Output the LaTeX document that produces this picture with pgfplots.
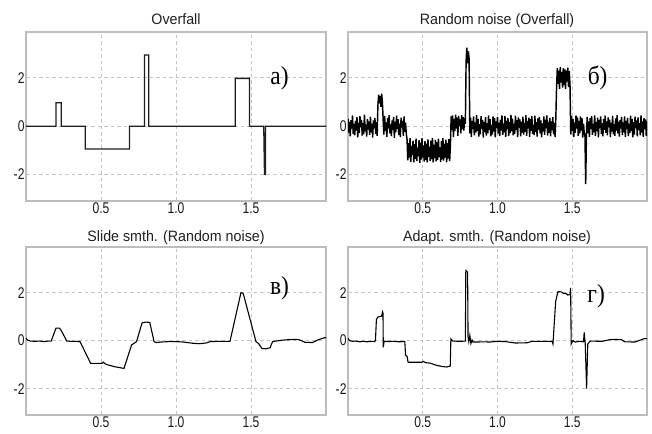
\documentclass[border=0pt]{standalone}
\usepackage{pgfplots}
\pgfplotsset{compat=1.18}
\usepackage{pgfplotstable}
\usepackage{fontspec}
\setmainfont{Liberation Sans}
\newfontfamily\tickfont[FakeStretch=0.78]{Liberation Sans}
\newfontfamily\titlefont[FakeStretch=0.95]{Liberation Sans}
\newfontfamily\lblfont[FakeStretch=0.9]{Liberation Serif}
\definecolor{framegray}{HTML}{BDBDBD}
\definecolor{gridgray}{HTML}{C4C4C4}

\pgfplotstableread[row sep=\\]{
y\\
0.31\\ -0.27\\ 0.18\\ -0.42\\ 0.25\\ -0.1\\ 0.44\\ -0.33\\ 0.09\\ -0.38\\
0.22\\ -0.18\\ 0.37\\ -0.46\\ 0.13\\ -0.29\\ 0.41\\ -0.05\\ 0.26\\ -0.39\\
0.12\\ -0.34\\ 0.48\\ -0.21\\ 0.06\\ -0.43\\ 0.3\\ -0.14\\ 0.2\\ -0.36\\
0.39\\ -0.26\\ 0.1\\ -0.47\\ 0.24\\ -0.08\\ 0.34\\ -0.32\\ 0.17\\ -0.4\\
0.85\\ 1.3\\ 0.95\\ 1.25\\ 0.8\\ 1.35\\ 1.0\\
0.28\\ -0.35\\ 0.42\\ -0.2\\ 0.15\\ -0.44\\ 0.33\\ -0.09\\ 0.46\\ -0.3\\
0.07\\ -0.41\\ 0.24\\ -0.16\\ 0.38\\ -0.48\\ 0.19\\ -0.25\\ 0.43\\ -0.12\\
0.29\\ -0.37\\ 0.1\\ -0.45\\ 0.35\\ -0.06\\ 0.22\\ -0.4\\ 0.4\\ -0.23\\
0.14\\ -0.33\\
-0.55\\ -1.42\\ -0.7\\ -1.3\\ -0.5\\ -1.48\\ -0.82\\ -1.2\\ -0.6\\ -1.5\\
-0.75\\ -1.35\\ -0.52\\ -1.45\\ -0.9\\ -1.25\\ -0.58\\ -1.52\\ -0.68\\ -1.38\\
-0.5\\ -1.3\\ -0.8\\ -1.47\\ -0.62\\ -1.4\\ -0.72\\ -1.5\\ -0.55\\ -1.28\\
-0.85\\ -1.44\\ -0.6\\ -1.36\\ -0.5\\ -1.5\\ -0.77\\ -1.32\\ -0.57\\ -1.46\\
-0.66\\ -1.4\\ -0.52\\ -1.27\\ -0.88\\ -1.49\\ -0.61\\ -1.37\\ -0.5\\ -1.43\\
-0.73\\ -1.3\\ -0.56\\ -1.5\\ -0.69\\ -1.34\\ -0.54\\ -1.45\\ -0.8\\
0.4\\ -0.15\\ 0.45\\ -0.45\\ 0.3\\ -0.2\\ 0.48\\ -0.1\\ 0.35\\ -0.4\\
0.42\\ 0.0\\ 0.28\\ -0.3\\ 0.46\\ -0.12\\ 0.38\\ -0.18\\ 0.33\\ 0.1\\
2.7\\ 3.25\\ 2.6\\ 3.1\\ 2.8\\
-0.3\\ 0.35\\ -0.45\\ 0.22\\ -0.12\\ 0.4\\ -0.38\\ 0.15\\ -0.27\\ 0.46\\
-0.2\\ 0.3\\ -0.43\\ 0.08\\ -0.34\\ 0.41\\ -0.1\\ 0.26\\ -0.47\\ 0.18\\
-0.24\\ 0.37\\ -0.39\\ 0.12\\ -0.3\\ 0.44\\ -0.16\\ 0.29\\ -0.42\\ 0.05\\
-0.35\\ 0.4\\ -0.22\\ 0.33\\ -0.46\\ 0.2\\ -0.08\\ 0.38\\ -0.31\\ 0.14\\
-0.41\\ 0.27\\ -0.18\\ 0.45\\ -0.36\\ 0.09\\ -0.26\\ 0.42\\ -0.44\\ 0.23\\
-0.12\\ 0.34\\ -0.4\\ 0.17\\ -0.29\\ 0.47\\ -0.2\\ 0.31\\ -0.38\\ 0.1\\
-0.33\\ 0.43\\ -0.15\\ 0.25\\ -0.45\\ 0.36\\ -0.07\\ 0.28\\ -0.42\\ 0.19\\
-0.27\\ 0.39\\ -0.35\\ 0.13\\ -0.23\\ 0.46\\ -0.4\\ 0.21\\ -0.1\\ 0.35\\
-0.44\\ 0.3\\ -0.19\\ 0.41\\ -0.32\\ 0.06\\ -0.37\\ 0.44\\ -0.25\\ 0.16\\
-0.43\\ 0.32\\ -0.14\\ 0.38\\ -0.3\\ 0.24\\ -0.46\\ 0.11\\ -0.21\\ 0.4\\
-0.36\\ 0.27\\ -0.09\\ 0.45\\ -0.39\\ 0.18\\ -0.28\\ 0.34\\ -0.42\\ 0.2\\
-0.16\\ 0.37\\ -0.33\\ 0.12\\ -0.45\\ 0.3\\
1.6\\ 2.4\\ 1.75\\ 2.3\\ 1.55\\ 2.45\\ 1.8\\ 2.25\\ 1.6\\ 2.4\\
1.7\\ 2.35\\ 1.55\\ 2.3\\ 1.85\\ 2.42\\ 1.62\\ 2.28\\ 1.7\\
-0.35\\ 0.42\\ -0.2\\ 0.3\\ -0.45\\ 0.15\\ -0.28\\ 0.44\\ -0.1\\ 0.36\\
-0.4\\ 0.22\\ -0.3\\ 0.4\\ -0.18\\ 0.33\\ -0.47\\ 0.1\\ -0.25\\ -0.4\\
-2.4\\ -0.3\\
0.38\\ -0.3\\ 0.2\\ -0.44\\ 0.33\\ -0.12\\ 0.41\\ -0.36\\ 0.1\\ -0.25\\
0.45\\ -0.4\\ 0.16\\ -0.2\\ 0.35\\ -0.46\\ 0.26\\ -0.08\\ 0.4\\ -0.33\\
0.12\\ -0.42\\ 0.3\\ -0.15\\ 0.44\\ -0.28\\ 0.2\\ -0.38\\ 0.36\\ -0.05\\
0.27\\ -0.45\\ 0.14\\ -0.22\\ 0.42\\ -0.34\\ 0.08\\ -0.4\\ 0.32\\ -0.18\\
0.46\\ -0.3\\ 0.19\\ -0.43\\ 0.25\\ -0.1\\ 0.38\\ -0.37\\ 0.15\\ -0.26\\
0.4\\ -0.44\\ 0.22\\ -0.13\\ 0.34\\ -0.41\\ 0.1\\ -0.29\\ 0.43\\ -0.2\\
0.3\\ -0.46\\ 0.17\\ -0.35\\ 0.39\\ -0.07\\ 0.24\\ -0.42\\ 0.36\\ -0.16\\
0.12\\ -0.38\\ 0.45\\ -0.27\\ 0.2\\ -0.44\\ 0.33\\ -0.11\\ 0.28\\ -0.4\\
0.2\\
}\noiseb

\pgfplotsset{
  panel/.style={
    width=300bp, height=169bp, scale only axis,
    anchor=south west,
    xmin=0, xmax=2, ymin=-3.1, ymax=3.9,
    xtick={0.5,1,1.5}, xticklabels={0.5,1.0,1.5},
    ytick={-2,0,2},
    grid=major,
    major grid style={dash pattern=on 3.5bp off 3bp, color=gridgray, line width=0.8bp},
    axis line style={color=framegray, line width=1.1bp},
    major tick length=0pt,
    /pgf/number format/assume math mode=true,
    tick label style={font=\tickfont\fontsize{15.5bp}{17bp}\selectfont, text=black!90},
    xticklabel style={yshift=1.5bp},
    yticklabel style={xshift=2bp},
  },
}
\tikzset{lbl/.style={font=\lblfont\fontsize{26bp}{28bp}\selectfont, text=black},
  ttl/.style={font=\titlefont\fontsize{15bp}{17bp}\selectfont, anchor=base, text=black!88}}

\begin{document}
\begin{tikzpicture}
\path (0,0) rectangle (652bp,434bp);

% a) Overfall
\begin{axis}[panel, at={(26bp,233bp)}]
\addplot[black!88, line width=1.3bp] coordinates {
(0,0)(0.2,0)(0.2,0.97)(0.235,0.97)(0.235,0)(0.395,0)(0.395,-0.95)(0.69,-0.95)(0.69,0)
(0.79,0)(0.79,2.95)(0.818,2.95)(0.818,0)(1.395,0)(1.395,1.98)(1.49,1.98)(1.49,0)
(1.585,0)(1.59,-2)(1.597,-2)(1.597,0)(2,0)};
\node[lbl] at (axis cs:1.69,2.0) {а)};
\end{axis}

% b) Random noise
\begin{axis}[panel, width=299bp, at={(348bp,233bp)}]
\addplot[black, line width=1.45bp] table[x expr=\coordindex*0.005, y=y] {\noiseb};
\node[lbl] at (axis cs:1.67,2.0) {б)};
\end{axis}

% c) Slide smoothing
\begin{axis}[panel, height=168bp, at={(26bp,19bp)}]
\addplot[black, line width=1.1bp] coordinates {
(0,0.1)(0.01,0.02)(0.03,-0.02)(0.06,-0.03)(0.09,-0.02)(0.12,-0.04)(0.15,-0.02)(0.168,-0.02)
(0.2,0.52)(0.223,0.52)(0.235,0.42)(0.272,-0.02)(0.3,-0.03)(0.33,-0.03)(0.36,-0.04)
(0.431,-0.95)(0.47,-0.95)(0.505,-0.95)(0.515,-0.9)(0.53,-0.98)(0.55,-1.02)(0.593,-1.09)
(0.62,-1.12)(0.653,-1.16)(0.704,-0.18)(0.737,-0.04)(0.774,0.74)(0.8,0.77)(0.825,0.76)
(0.854,-0.05)(0.87,-0.08)(0.9,-0.06)(0.93,-0.05)(0.96,-0.04)(1.0,-0.04)(1.05,-0.06)
(1.11,-0.11)(1.155,-0.13)(1.2,-0.1)(1.23,-0.04)(1.3,-0.03)(1.36,-0.03)
(1.433,2.0)(1.444,1.98)(1.45,1.92)(1.533,-0.04)(1.55,-0.12)(1.573,-0.33)(1.6,-0.34)
(1.627,-0.3)(1.644,-0.04)(1.71,0.02)(1.78,0.05)(1.82,0.04)(1.86,-0.07)(1.91,-0.08)
(1.95,0.04)(1.99,0.12)(2.0,0.12)};
\node[lbl] at (axis cs:1.69,2.2) {в)};
\end{axis}

% d) Adaptive smoothing
\begin{axis}[panel, width=299bp, height=168bp, at={(348bp,19bp)}]
\addplot[black, line width=1.1bp] coordinates {
(0,0.1)(0.01,0.0)(0.03,-0.03)(0.05,-0.02)(0.08,-0.05)(0.1,-0.03)(0.13,-0.05)(0.16,-0.03)
(0.18,-0.04)(0.184,0.05)(0.19,0.88)(0.2,0.98)(0.21,1.0)(0.225,1.02)(0.231,1.2)(0.234,1.15)
(0.236,-0.28)(0.242,-0.02)(0.26,-0.04)(0.3,-0.03)(0.34,-0.05)(0.38,-0.04)(0.385,-0.62)
(0.395,-0.65)(0.402,-0.9)(0.45,-0.9)(0.493,-0.9)(0.505,-0.87)(0.52,-0.92)(0.55,-0.94)
(0.593,-1.03)(0.63,-1.08)(0.66,-1.1)(0.684,-1.06)(0.688,0.07)(0.7,-0.02)(0.75,-0.03)
(0.785,-0.02)(0.788,2.92)(0.8,2.85)(0.803,0.15)(0.808,-0.05)(0.815,0.22)(0.822,-0.12)
(0.83,0.02)(0.836,-0.06)(0.87,-0.06)(0.9,-0.05)(0.95,-0.06)(1.0,-0.03)(1.05,-0.04)
(1.12,-0.1)(1.2,-0.09)(1.23,-0.03)(1.3,-0.03)(1.365,-0.03)(1.371,-0.14)(1.389,1.63)
(1.404,2.04)(1.427,2.03)(1.44,1.97)(1.46,1.96)(1.47,1.9)(1.485,1.92)(1.489,2.2)
(1.493,-0.14)(1.504,0.0)(1.52,-0.06)(1.55,-0.03)(1.575,-0.05)(1.58,0.34)(1.587,-0.15)
(1.596,-2.0)(1.604,-0.14)(1.62,-0.02)(1.7,-0.03)(1.76,0.05)(1.83,0.04)(1.85,-0.05)
(1.92,-0.06)(1.98,0.08)(2.0,0.08)};
\node[lbl] at (axis cs:1.66,1.85) {г)};
\end{axis}

% titles
\node[ttl] at (176bp,409bp) {Overfall};
\node[ttl] at (497bp,409bp) {Random noise (Overfall)};
\node[ttl] at (176bp,192bp) {Slide smth. (Random noise)};
\node[ttl] at (497bp,192bp) {Adapt. smth. (Random noise)};
\end{tikzpicture}
\end{document}
